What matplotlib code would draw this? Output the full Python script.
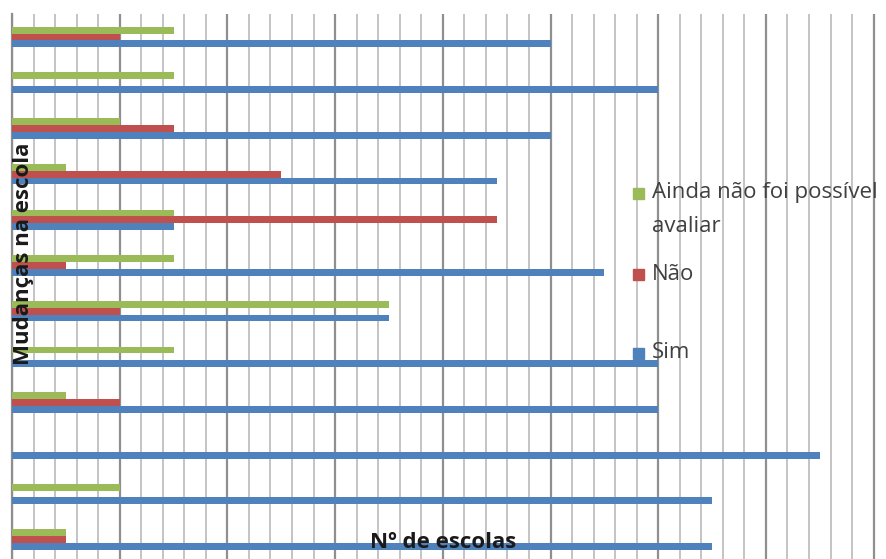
import matplotlib
matplotlib.use("Agg")
import matplotlib.pyplot as plt
import numpy as np
from matplotlib.patches import Rectangle

# schools per category, listed from the top group down
categorias = [str(i) for i in range(1, 13)]
sim = [10, 12, 10, 9, 3, 11, 7, 12, 12, 15, 13, 13]
nao = [2, 0, 3, 5, 9, 1, 2, 0, 2, 0, 0, 1]
ainda = [3, 3, 2, 1, 3, 3, 7, 3, 1, 0, 2, 1]

series = [
    ("Sim", sim, "#4F81BD"),
    ("Não", nao, "#C0504D"),
    ("Ainda não foi possível avaliar", ainda, "#9BBB59"),
]

W, H = 886, 559
fig = plt.figure(figsize=(W / 100, H / 100), dpi=100)
plt.rcParams['font.family'] = ['Open Sans', 'DejaVu Sans']

# plot area runs past the right and bottom edges of the figure
x0, unit = 12, 53.85
top_px, band = 14.15, 45.7
bottom_px = top_px + band * len(categorias)
ax = fig.add_axes([x0 / W, 1 - bottom_px / H, 1 - x0 / W, (bottom_px - top_px) / H])

y = np.arange(len(categorias))
h = 0.15
offsets = [h, 0, -h]
for (nome, vals, cor), off in zip(series, offsets):
    ax.barh(y + off, vals, height=h, color=cor, label=nome, zorder=3)

ax.set_xticks(np.arange(0, 18, 2))
ax.set_xticks(np.arange(0, 18, 0.4), minor=True)
ax.set_yticks(y)
ax.set_xlim(0, (W - x0) / unit)
ax.set_ylim(len(categorias) - 0.5, -0.5)

ax.grid(which='minor', axis='x', color='#C4C4C4', lw=1.4, zorder=0)
ax.grid(which='major', axis='x', color='#8F8F8F', lw=1.6, zorder=1)
ax.set_axisbelow(True)
ax.tick_params(which='both', length=0, labelbottom=False, labelleft=False)

for s in ['top', 'right', 'bottom']:
    ax.spines[s].set_visible(False)
ax.spines['left'].set_color('#8F8F8F')
ax.spines['left'].set_linewidth(1.6)
ax.spines['left'].set_zorder(2)

# axis titles
fig.text(24 / W, 1 - 254 / H, "Mudanças na escola", rotation=90, ha='center', va='center',
         fontsize=16, fontweight='bold', color='#1a1a1a')
fig.text(443 / W, 1 - 543 / H, "Nº de escolas", ha='center', va='center',
         fontsize=16, fontweight='bold', color='#1a1a1a')

# legend, newest series on top; each text line placed on its own
leg = [(["Ainda não foi possível", "avaliar"], "#9BBB59", 193),
       (["Não"], "#C0504D", 274),
       (["Sim"], "#4F81BD", 353)]
for linhas, cor, yc in leg:
    fig.patches.append(Rectangle((633 / W, 1 - (yc + 6) / H), 11 / W, 11 / H,
                                 transform=fig.transFigure, color=cor, zorder=5))
    for k, linha in enumerate(linhas):
        fig.text(652 / W, 1 - (yc + 33 * k) / H, linha, ha='left', va='center',
                 fontsize=16, color='#404040')

fig.savefig("out.png", dpi=100)
